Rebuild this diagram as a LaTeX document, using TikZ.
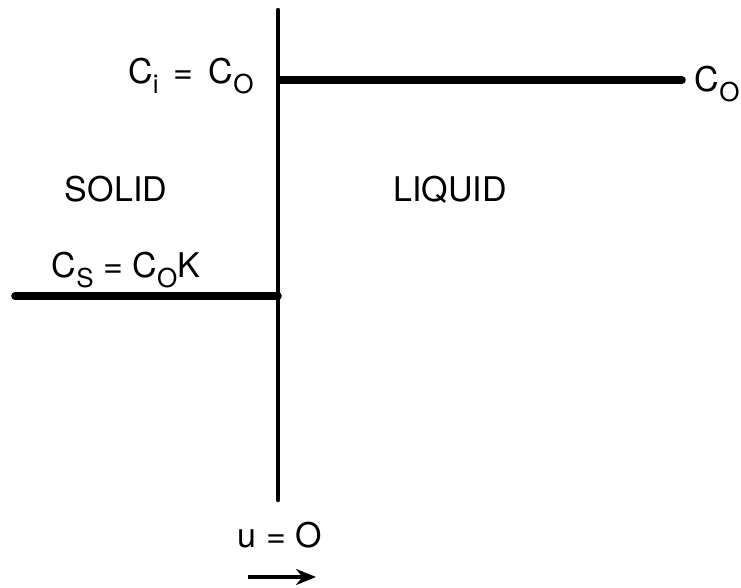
\documentclass[tikz,border=0pt]{standalone}
\usepackage{fontspec}
\setmainfont{TeX Gyre Heros}
\usetikzlibrary{arrows.meta,positioning}
\newcommand{\lowidx}[1]{\raisebox{-0.6ex}{\fontsize{13}{13}\selectfont #1}}
\begin{document}
\begin{tikzpicture}[x=0.5pt,y=-0.5pt,font=\fontsize{17}{19}\selectfont,
  conc/.style={line width=3.8pt,line cap=round},
  lbl/.style={inner sep=0pt}]
  \useasboundingbox (0,0) rectangle (741,588);
  % interface and concentration levels
  \coordinate (itop) at (278,10);
  \coordinate (ibot) at (278,500);
  \coordinate (ihi) at (280,80);
  \coordinate (ilo) at (278,296);
  \coordinate (lend) at (682,80);
  \coordinate (send) at (15,296);
  \draw[line width=2.2pt,line cap=round] (itop) -- (ibot);
  \draw[conc] (ihi) -- (lend);
  \draw[conc] (send) -- (ilo);
  \node[lbl,anchor=east] (ci) at (254,76) {C\lowidx{i}\, = \,C\lowidx{O}};
  \node[lbl,anchor=east] (co) at (740,84) {C\lowidx{O}};
  \node[lbl] (solid) at (116,189) {SOLID};
  \node[lbl] (liquid) at (450,190) {LIQUID};
  \node[lbl] (cs) at (126,270) {C\lowidx{S} = C\lowidx{O}K};
  \node[lbl] (u) at (280,535) {u = O};
  \coordinate (a1) at (248,577);
  \coordinate (a2) at (316,577);
  \draw[line width=2pt,-{Stealth[length=10pt,width=8pt]}] (a1) -- (a2);
\end{tikzpicture}
\end{document}
